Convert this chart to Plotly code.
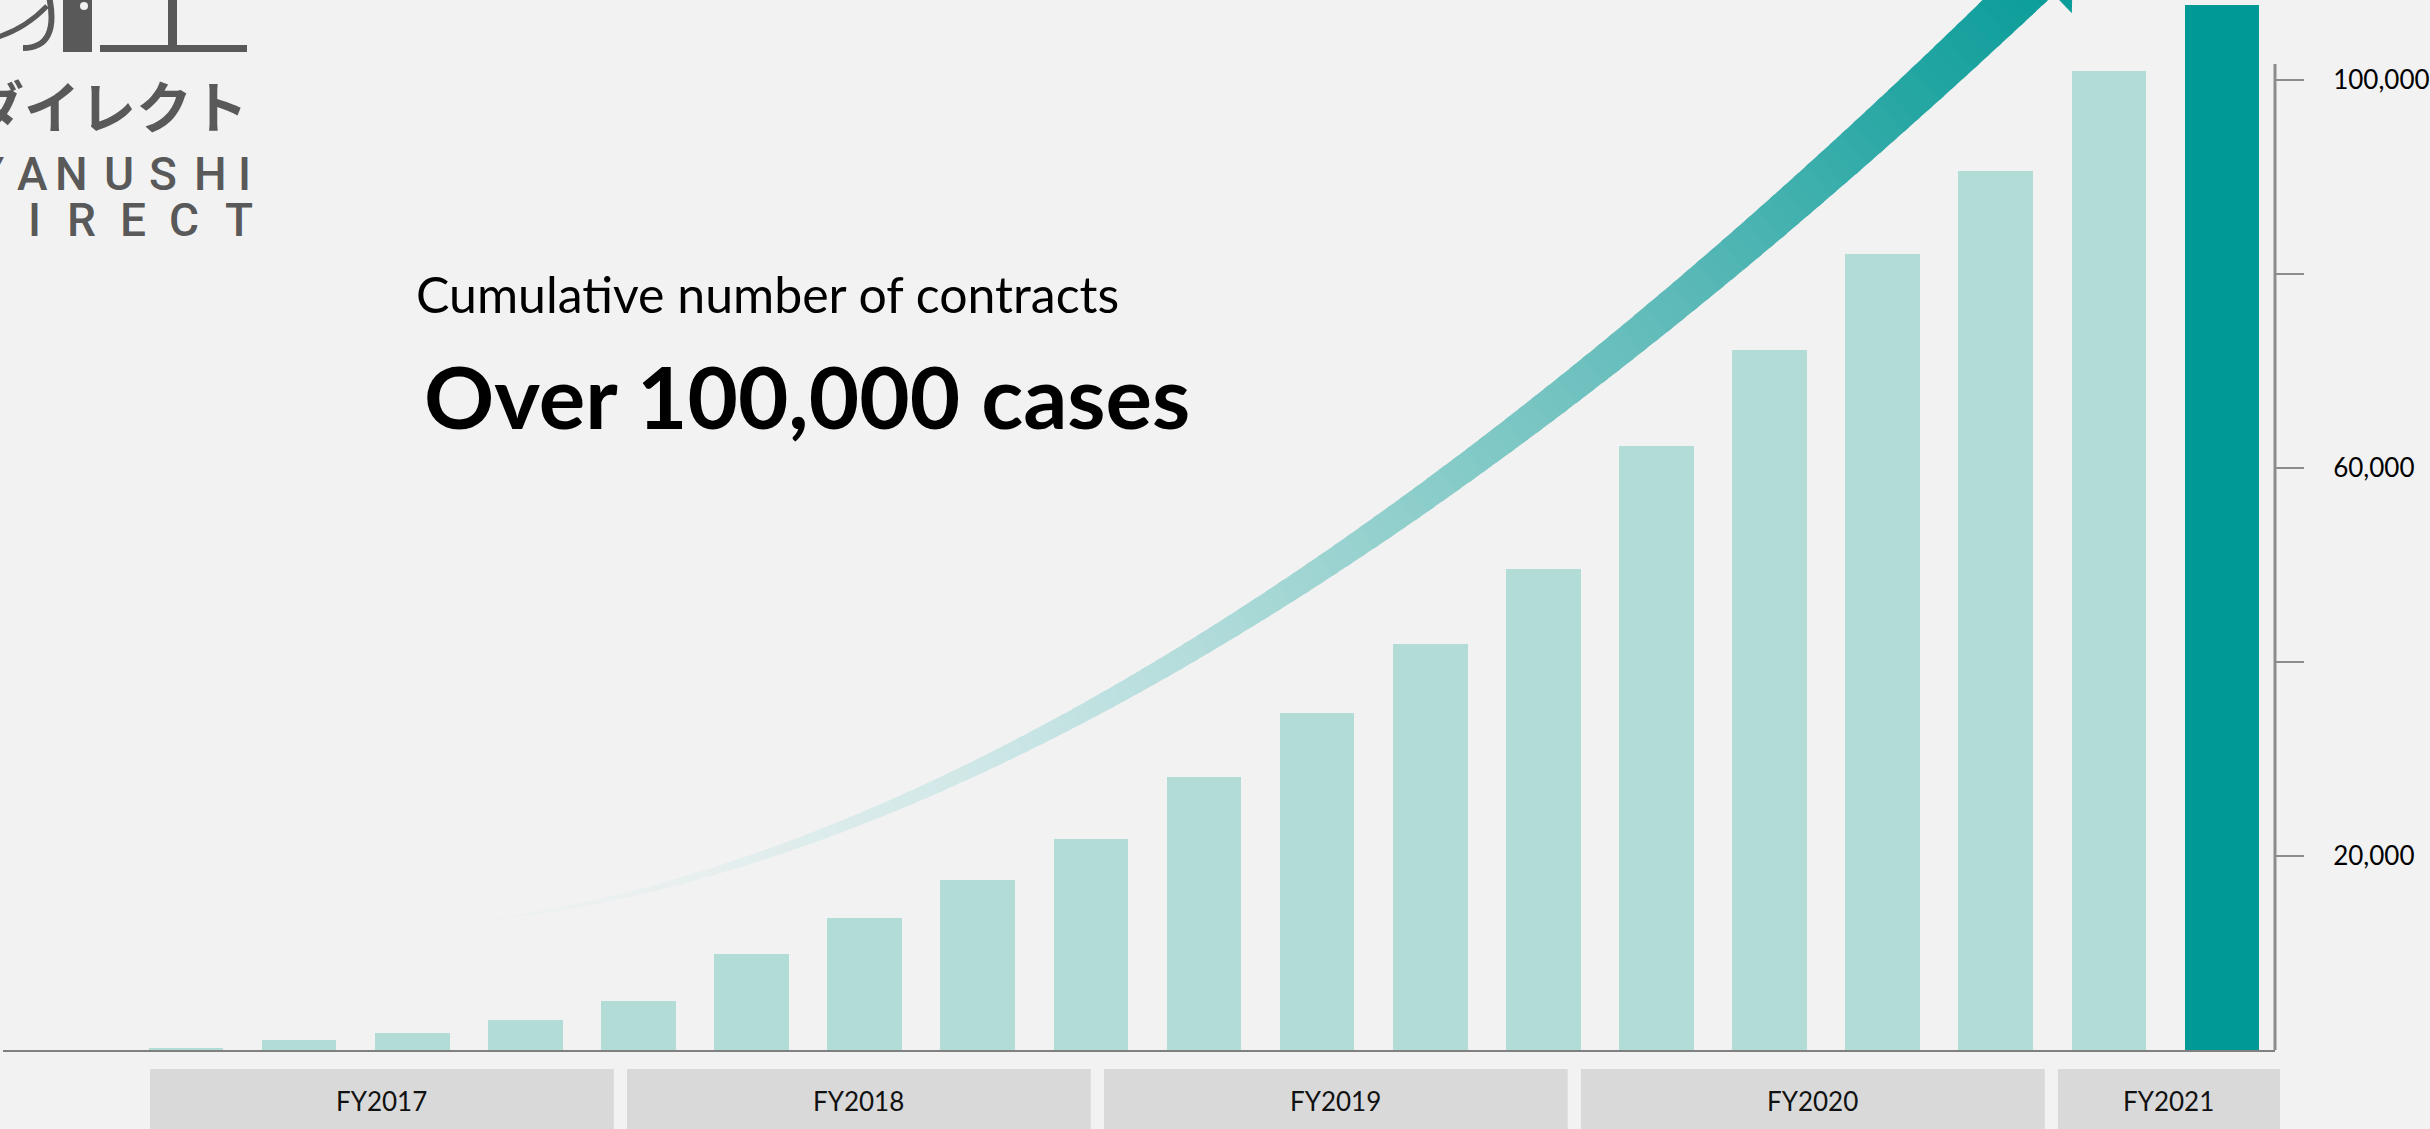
import plotly.graph_objects as go
import numpy as np

# ---------------- data ----------------
contracts = [200, 1000, 1750, 3100, 5050, 9900, 13600, 17500, 21700, 28100,
             34700, 41800, 49600, 62200, 72100, 82000, 90600, 100900, 107700]
fiscal_years = ["FY2017", "FY2018", "FY2019", "FY2020", "FY2021"]
tick_values = [20000, 40000, 60000, 80000, 100000]
tick_labels = ["20,000", "", "60,000", "", "100,000"]
title_line1 = "Cumulative number of contracts"
title_line2 = "Over 100,000 cases"

# ---------------- geometry / style ----------------
W, H = 2430, 1129
ML, MR, MT, MB = 3, 155, 0, 79
PW, PH = W - ML - MR, H - MT - MB
XR = [-0.618, 19.469]
YR = [0, 108200]
BG = "#f2f2f2"
LIGHT = "#b2dcd6"
DARK = "#009996"
LOGO = "#595959"
FONT = "Lato, 'Open Sans', sans-serif"

positions = list(range(1, len(contracts) + 1))
bar_colors = [LIGHT] * (len(contracts) - 1) + [DARK]


def pp(X, Y):
    """pixel -> paper"""
    return (X - ML) / PW, 1 - (Y - MT) / PH


def path_from(points, close=True):
    parts = []
    for i, (X, Y) in enumerate(points):
        px, py = pp(X, Y)
        parts.append(("M" if i == 0 else "L") + f"{px:.6f},{py:.6f}")
    return " ".join(parts) + (" Z" if close else "")


def xd_to_paper(xd):
    return (xd - XR[0]) / (XR[1] - XR[0])


fig = go.Figure()
fig.add_trace(go.Bar(
    x=positions, y=contracts, width=0.66,
    marker=dict(color=bar_colors, line=dict(width=0)),
    hovertemplate="%{y:,}<extra></extra>",
))

shapes = []
annotations = []

# ---------- decorative growth swoosh (gradient arrow) ----------
P0 = np.array([440.0, 925.0]); P1 = np.array([1000.0, 880.0])
P2 = np.array([1600.0, 400.0]); P3 = np.array([2038.0, -22.0])


def bez(t):
    return ((1 - t) ** 3) * P0 + 3 * ((1 - t) ** 2) * t * P1 + 3 * (1 - t) * t * t * P2 + t ** 3 * P3


def dbez(t):
    return 3 * ((1 - t) ** 2) * (P1 - P0) + 6 * (1 - t) * t * (P2 - P1) + 3 * t * t * (P3 - P2)


stops = [(0.0, (242, 242, 242)), (0.15, (232, 239, 239)), (0.3, (210, 232, 232)),
         (0.45, (178, 220, 219)), (0.6, (136, 204, 201)), (0.75, (92, 186, 184)),
         (0.9, (40, 167, 164)), (1.0, (11, 157, 154))]


def grad(t):
    for (t0, c0), (t1, c1) in zip(stops[:-1], stops[1:]):
        if t <= t1:
            f = (t - t0) / (t1 - t0)
            c = [round(a + (b - a) * f) for a, b in zip(c0, c1)]
            return "rgb(%d,%d,%d)" % tuple(c)
    return "rgb(%d,%d,%d)" % stops[-1][1]


def edge(t):
    b = bez(t)
    d = dbez(t)
    d = d / np.linalg.norm(d)
    n = np.array([-d[1], d[0]])
    w = 46.0 * t
    return b + n * w / 2, b - n * w / 2


N = 120
ts = np.linspace(0, 1, N + 1)
for i in range(N):
    ta = ts[i]
    tb = min(1.0, ts[i + 1] + 0.4 / N)
    la, ua = edge(ta)
    lb, ub = edge(tb)
    shapes.append(dict(type="path", xref="paper", yref="paper", layer="below",
                       path=path_from([la, lb, ub, ua]),
                       fillcolor=grad((ta + tb) / 2), line=dict(width=0)))
# arrow head
E = P3
d = dbez(1.0); d = d / np.linalg.norm(d)
n = np.array([-d[1], d[0]])
head = [E + 48.8 * n, E + 48.8 * d, E - 48.8 * n]
shapes.append(dict(type="path", xref="paper", yref="paper", layer="below",
                   path=path_from(head), fillcolor=grad(1.0), line=dict(width=0)))

# ---------- right axis spine (only up to just over 100,000) ----------
shapes.append(dict(type="line", xref="paper", yref="y", x0=1, x1=1, y0=0, y1=101600,
                   line=dict(color="#8c8c8c", width=3)))

# ---------- fiscal-year boxes under the axis ----------
start0, pitch = 0.682, 4.217
for k, fy in enumerate(fiscal_years):
    s = start0 + pitch * k
    e = s + (4.1 if k < len(fiscal_years) - 1 else 1.963)
    shapes.append(dict(type="rect", xref="paper", yref="paper",
                       x0=xd_to_paper(s), x1=xd_to_paper(e),
                       y0=pp(0, 1069)[1], y1=pp(0, 1140)[1],
                       fillcolor="#d9d9d9", line=dict(width=0)))
    annotations.append(dict(text=fy, xref="x", yref="paper", x=(s + e) / 2,
                            y=pp(0, 1101)[1], xanchor="center", yanchor="middle",
                            showarrow=False, font=dict(family=FONT, size=26, color="#111111")))

# ---------- logo (partially cut off at top-left) ----------
def stroke(points_q, width):
    (x0, y0), (cx, cy), (x1, y1) = points_q
    a = pp(x0, y0); b = pp(cx, cy); c = pp(x1, y1)
    return dict(type="path", xref="paper", yref="paper",
                path=f"M{a[0]:.6f},{a[1]:.6f} Q{b[0]:.6f},{b[1]:.6f} {c[0]:.6f},{c[1]:.6f}",
                line=dict(color=LOGO, width=width), fillcolor="rgba(0,0,0,0)")


shapes.append(stroke([(-2, 37), (26, 28), (47, 6)], 5))
shapes.append(stroke([(49, -4), (60, 48), (23, 48)], 6))
for (x0, y0, x1, y1) in [(63, -5, 92, 52), (100, 45, 247, 52), (168, -5, 177, 46)]:
    a = pp(x0, y0); b = pp(x1, y1)
    shapes.append(dict(type="rect", xref="paper", yref="paper", x0=a[0], y0=a[1], x1=b[0], y1=b[1],
                       fillcolor=LOGO, line=dict(width=0)))
a = pp(80, 2); b = pp(88, 10)
shapes.append(dict(type="circle", xref="paper", yref="paper", x0=a[0], y0=a[1], x1=b[0], y1=b[1],
                   fillcolor=BG, line=dict(width=0)))

jx, jy = pp(250, 103)
annotations.append(dict(text="ダイレクト", xref="paper", yref="paper", x=jx, y=jy,
                        xanchor="right", yanchor="middle", showarrow=False,
                        font=dict(family="Noto Sans CJK JP", size=56, color=LOGO, weight="bold")))

for letters, centers, yc in [("YANUSHI", [-10, 32, 71, 119, 163, 210, 244], 174),
                             ("DIRECT", [-14, 34, 81, 133, 184, 239], 220)]:
    for ch, cx in zip(letters, centers):
        lx, ly = pp(cx, yc)
        annotations.append(dict(text=ch, xref="paper", yref="paper", x=lx, y=ly,
                                xanchor="center", yanchor="middle", showarrow=False,
                                font=dict(family="'Liberation Sans Narrow', Roboto, sans-serif",
                                          size=46, color=LOGO, weight=500)))

# ---------- headline text ----------
tx, ty = pp(414, 294)
annotations.append(dict(text=title_line1, xref="paper", yref="paper", x=tx, y=ty,
                        xanchor="left", yanchor="middle", showarrow=False,
                        font=dict(family=FONT, size=50, color="#000000")))
tx, ty = pp(422, 395)
annotations.append(dict(text=f"<b>{title_line2}</b>", xref="paper", yref="paper", x=tx, y=ty,
                        xanchor="left", yanchor="middle", showarrow=False,
                        font=dict(family=FONT, size=87, color="#000000")))

fig.update_layout(
    width=W, height=H,
    margin=dict(l=ML, r=MR, t=MT, b=MB, pad=0),
    paper_bgcolor=BG, plot_bgcolor=BG,
    showlegend=False, bargap=0,
    shapes=shapes, annotations=annotations,
    xaxis=dict(range=XR, showline=True, linecolor="#808080", linewidth=2,
               showticklabels=False, ticks="", showgrid=False, zeroline=False, fixedrange=True),
    yaxis=dict(range=YR, side="right", tickvals=tick_values, ticktext=tick_labels,
               ticks="outside", ticklen=28, tickwidth=2, tickcolor="#8c8c8c",
               ticklabelstandoff=24, showline=False, showgrid=False, zeroline=False,
               tickfont=dict(family=FONT, size=26, color="#000000"), fixedrange=True),
)

fig.write_html("out.html", config={"displayModeBar": False},
               post_script="document.body.style.margin='0px';document.body.style.background='#f2f2f2';")
